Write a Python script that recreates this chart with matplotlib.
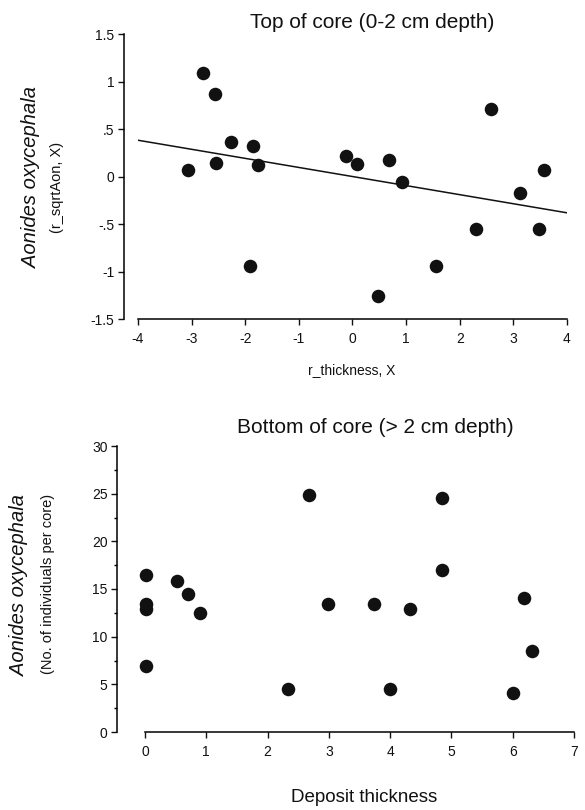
import matplotlib.pyplot as plt
from matplotlib.ticker import MultipleLocator

plt.rcParams['font.family'] = ['Liberation Sans', 'DejaVu Sans']
plt.rcParams['axes.unicode_minus'] = False

# top panel: residuals
top_x = [-3.06, -2.79, -2.56, -2.54, -2.26, -1.85, -1.76, -1.91, -0.12, 0.08,
         0.68, 0.93, 0.47, 1.55, 2.31, 2.59, 3.13, 3.48, 3.57]
top_y = [0.07, 1.095, 0.87, 0.148, 0.37, 0.324, 0.13, -0.94, 0.218, 0.134,
         0.183, -0.053, -1.25, -0.94, -0.546, 0.718, -0.17, -0.546, 0.077]
fit_x = [-4, 4]
fit_y = [0.387, -0.377]
top_yticks = [-1.5, -1, -0.5, 0, 0.5, 1, 1.5]
top_yticklabels = ['-1.5', '-1', '-.5', '0', '.5', '1', '1.5']
top_xticks = [-4, -3, -2, -1, 0, 1, 2, 3, 4]

# bottom panel: raw counts
bot_x = [0.01, 0.01, 0.01, 0.01, 0.53, 0.70, 0.89, 2.33, 2.67, 2.99,
         3.74, 4.00, 4.32, 4.84, 4.84, 6.01, 6.18, 6.32]
bot_y = [16.5, 13.44, 12.88, 6.95, 15.86, 14.46, 12.46, 4.49, 24.9, 13.4,
         13.44, 4.49, 12.9, 24.5, 16.98, 4.04, 14.04, 8.49]
bot_yticks = [0, 5, 10, 15, 20, 25, 30]
bot_xticks = [0, 1, 2, 3, 4, 5, 6, 7]

W, H = 585, 810


def fx(x):
    return x / W


def fy(y):
    return 1 - y / H


def style(ax, offset):
    for s in ['top', 'right']:
        ax.spines[s].set_visible(False)
    ax.spines['left'].set_position(('outward', offset))
    ax.spines['left'].set_linewidth(1.1)
    ax.spines['bottom'].set_linewidth(1.1)
    ax.tick_params(direction='out', length=4, width=1.0, labelsize=10,
                   colors='#111111', pad=5)
    ax.tick_params(axis='y', pad=3)


fig = plt.figure(figsize=(5.85, 8.1), dpi=100)

ax1 = fig.add_axes([138 / W, fy(319.5), 429 / W, 285 / H])
ax1.scatter(top_x, top_y, s=95, color='#111111', zorder=3, linewidths=0)
ax1.plot(fit_x, fit_y, color='#111111', lw=1.1)
ax1.set_xlim(-4, 4)
ax1.set_ylim(-1.5, 1.5)
ax1.set_xticks(top_xticks)
ax1.set_yticks(top_yticks)
ax1.set_yticklabels(top_yticklabels)
style(ax1, 10)

ax2 = fig.add_axes([145 / W, fy(732), 429 / W, 286 / H])
ax2.scatter(bot_x, bot_y, s=95, color='#111111', zorder=3, linewidths=0,
            clip_on=False)
ax2.set_xlim(0, 7)
ax2.set_ylim(0, 30)
ax2.set_xticks(bot_xticks)
ax2.set_yticks(bot_yticks)
ax2.yaxis.set_minor_locator(MultipleLocator(2.5))
style(ax2, 20)
ax2.tick_params(axis='y', which='minor', direction='out', length=2.5, width=1.0)

# titles and labels
fig.text(fx(372), fy(22), 'Top of core (0-2 cm depth)', ha='center',
         va='center', fontsize=15, color='#111111')
fig.text(fx(352), fy(370), 'r_thickness, X', ha='center', va='center',
         fontsize=10, color='#111111')
fig.text(fx(32), fy(178), 'Aonides oxycephala', rotation=90, ha='center',
         va='center', fontsize=14.5, style='italic', color='#111111')
fig.text(fx(57), fy(187), '(r_sqrtAon, X)', rotation=90, ha='center',
         va='center', fontsize=10.5, color='#111111')

fig.text(fx(375), fy(428), 'Bottom of core (> 2 cm depth)', ha='center',
         va='center', fontsize=15, color='#111111')
fig.text(fx(364), fy(798), 'Deposit thickness', ha='center', va='center',
         fontsize=13.5, color='#111111')
fig.text(fx(20), fy(585), 'Aonides oxycephala', rotation=90, ha='center',
         va='center', fontsize=14.5, style='italic', color='#111111')
fig.text(fx(48), fy(584), '(No. of individuals per core)', rotation=90,
         ha='center', va='center', fontsize=10.5, color='#111111')

fig.savefig('out.png', dpi=100)
